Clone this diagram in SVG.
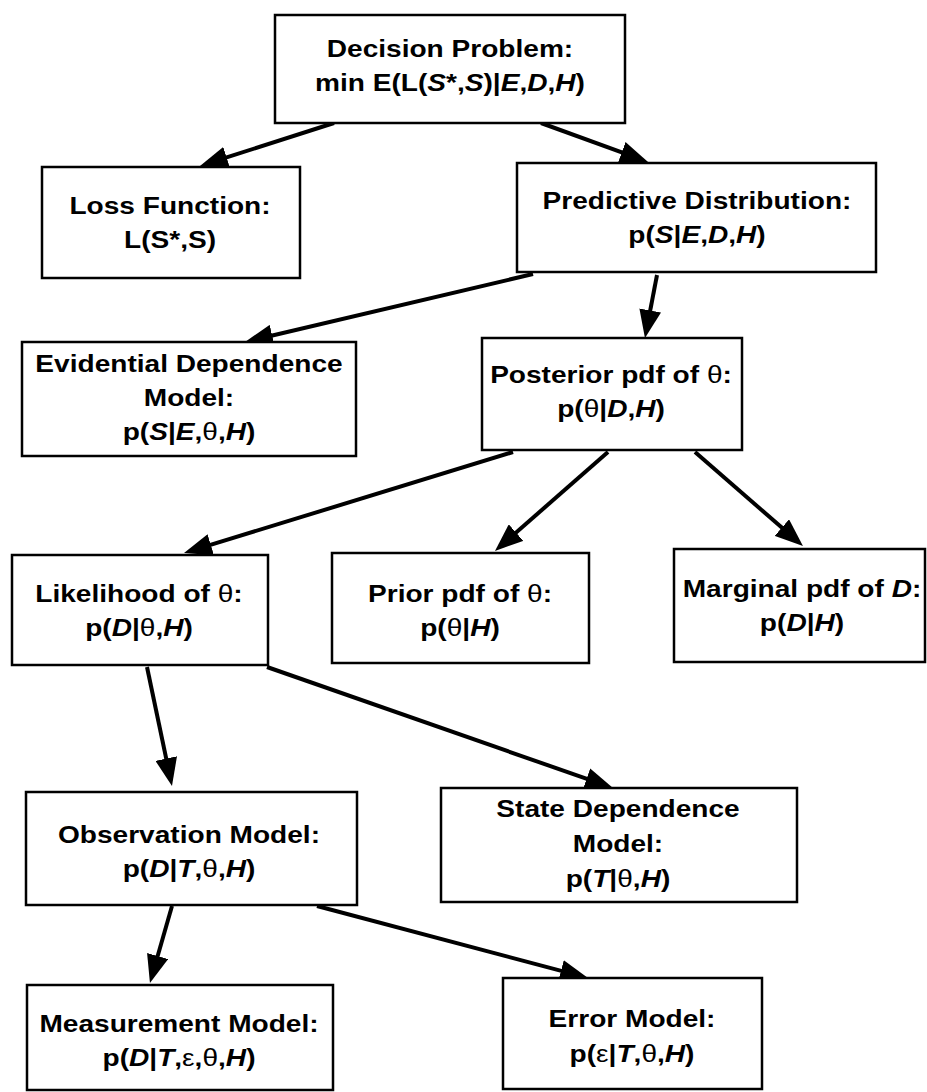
<svg xmlns="http://www.w3.org/2000/svg" width="927" height="1092" viewBox="0 0 927 1092">
<defs>
<style>
.box{fill:#fff;stroke:#000;stroke-width:2.5}
.t{font-family:"Liberation Sans",Arial,Helvetica,sans-serif;font-weight:bold;font-size:24px;fill:#000;text-anchor:middle}
.i{font-style:italic}
.g{font-weight:normal}
.c{fill:none;stroke:#000;stroke-width:4;marker-end:url(#ah)}
</style>
<marker id="ah" markerWidth="30" markerHeight="22" refX="14" refY="11" orient="auto" markerUnits="userSpaceOnUse">
<path d="M0,0 L28,11 L0,22 z" fill="#000"/>
</marker>
</defs>
<rect width="927" height="1092" fill="#fff"/>

<g id="connectors">
<path class="c" d="M334,123 L213.3,161.7"/>
<path class="c" d="M541,123 L634.9,157.2"/>
<path class="c" d="M533,274 L258.6,338.8"/>
<path class="c" d="M657,275 L647.6,324.2"/>
<path class="c" d="M513,452 L197.4,548.9"/>
<path class="c" d="M608,452 L505.5,541.8"/>
<path class="c" d="M695,452 L792.4,536.8"/>
<path class="c" d="M147,667 L169.1,772.3"/>
<path class="c" d="M267,667 L599.8,783.4"/>
<path class="c" d="M172,906 L153.8,969.5"/>
<path class="c" d="M317,906 L574.5,974.4"/>
</g>

<g id="decision">
<rect class="box" x="275" y="15" width="350" height="108"/>
<g transform="translate(450,0) scale(1.17,1)">
<text class="t" x="0" y="57">Decision Problem:</text>
<text class="t" x="0" y="91">min E(L(<tspan class="i">S</tspan>*,<tspan class="i">S</tspan>)|<tspan class="i">E</tspan>,<tspan class="i">D</tspan>,<tspan class="i">H</tspan>)</text>
</g>
</g>

<g id="loss">
<rect class="box" x="42" y="167" width="258" height="111"/>
<g transform="translate(170,0) scale(1.17,1)">
<text class="t" x="0" y="214">Loss Function:</text>
<text class="t" x="0" y="248">L(S*,S)</text>
</g>
</g>

<g id="predictive">
<rect class="box" x="517" y="163" width="359" height="109"/>
<g transform="translate(697,0) scale(1.17,1)">
<text class="t" x="0" y="209">Predictive Distribution:</text>
<text class="t" x="0" y="243">p(<tspan class="i">S</tspan>|<tspan class="i">E</tspan>,<tspan class="i">D</tspan>,<tspan class="i">H</tspan>)</text>
</g>
</g>

<g id="evidential">
<rect class="box" x="22" y="342" width="334" height="114"/>
<g transform="translate(189,0) scale(1.17,1)">
<text class="t" x="0" y="372">Evidential Dependence</text>
<text class="t" x="0" y="406">Model:</text>
<text class="t" x="0" y="440">p(<tspan class="i">S</tspan>|<tspan class="i">E</tspan>,<tspan class="g">θ</tspan>,<tspan class="i">H</tspan>)</text>
</g>
</g>

<g id="posterior">
<rect class="box" x="482" y="338" width="260" height="112"/>
<g transform="translate(611,0) scale(1.17,1)">
<text class="t" x="0" y="383">Posterior pdf of <tspan class="g">θ</tspan>:</text>
<text class="t" x="0" y="417">p(<tspan class="g">θ</tspan>|<tspan class="i">D</tspan>,<tspan class="i">H</tspan>)</text>
</g>
</g>

<g id="likelihood">
<rect class="box" x="12" y="555" width="256" height="110"/>
<g transform="translate(139,0) scale(1.17,1)">
<text class="t" x="0" y="602">Likelihood of <tspan class="g">θ</tspan>:</text>
<text class="t" x="0" y="636">p(<tspan class="i">D</tspan>|<tspan class="g">θ</tspan>,<tspan class="i">H</tspan>)</text>
</g>
</g>

<g id="prior">
<rect class="box" x="332" y="553" width="257" height="110"/>
<g transform="translate(460,0) scale(1.17,1)">
<text class="t" x="0" y="602">Prior pdf of <tspan class="g">θ</tspan>:</text>
<text class="t" x="0" y="636">p(<tspan class="g">θ</tspan>|<tspan class="i">H</tspan>)</text>
</g>
</g>

<g id="marginal">
<rect class="box" x="674" y="549" width="251" height="113"/>
<g transform="translate(802,0) scale(1.17,1)">
<text class="t" x="0" y="597">Marginal pdf of <tspan class="i">D</tspan>:</text>
<text class="t" x="0" y="631">p(<tspan class="i">D</tspan>|<tspan class="i">H</tspan>)</text>
</g>
</g>

<g id="observation">
<rect class="box" x="26" y="792" width="331" height="113"/>
<g transform="translate(189,0) scale(1.17,1)">
<text class="t" x="0" y="843">Observation Model:</text>
<text class="t" x="0" y="877">p(<tspan class="i">D</tspan>|<tspan class="i">T</tspan>,<tspan class="g">θ</tspan>,<tspan class="i">H</tspan>)</text>
</g>
</g>

<g id="state">
<rect class="box" x="441" y="788" width="356" height="114"/>
<g transform="translate(618,0) scale(1.17,1)">
<text class="t" x="0" y="817">State Dependence</text>
<text class="t" x="0" y="852">Model:</text>
<text class="t" x="0" y="887">p(<tspan class="i">T</tspan>|<tspan class="g">θ</tspan>,<tspan class="i">H</tspan>)</text>
</g>
</g>

<g id="measurement">
<rect class="box" x="27" y="985" width="306" height="105"/>
<g transform="translate(179,0) scale(1.17,1)">
<text class="t" x="0" y="1032">Measurement Model:</text>
<text class="t" x="0" y="1066">p(<tspan class="i">D</tspan>|<tspan class="i">T</tspan>,<tspan class="g">ε</tspan>,<tspan class="g">θ</tspan>,<tspan class="i">H</tspan>)</text>
</g>
</g>

<g id="error">
<rect class="box" x="503" y="978" width="259" height="111"/>
<g transform="translate(632,0) scale(1.17,1)">
<text class="t" x="0" y="1027">Error Model:</text>
<text class="t" x="0" y="1062">p(<tspan class="g">ε</tspan>|<tspan class="i">T</tspan>,<tspan class="g">θ</tspan>,<tspan class="i">H</tspan>)</text>
</g>
</g>
</svg>
